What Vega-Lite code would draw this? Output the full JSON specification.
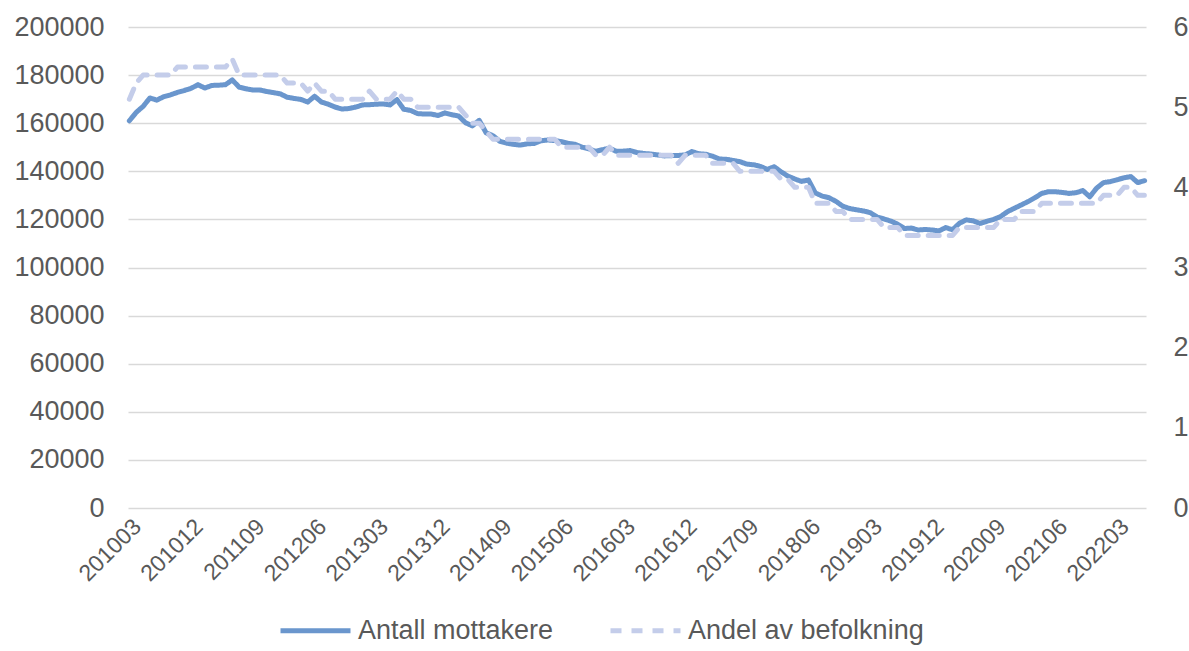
{
  "$schema": "https://vega.github.io/schema/vega-lite/v6.json",
  "autosize": {"type": "none"},
  "padding": {"left": 128, "top": 27, "right": 43, "bottom": 143},
  "width": 1018,
  "height": 481,
  "background": "white",
  "config": {
    "view": {"stroke": null},
    "font": "Liberation Sans",
    "axis": {"labelFont": "Liberation Sans", "labelFontSize": 26, "labelColor": "#595959", "titleFontSize": 0}
  },
  "data": {"values": [
    {"m":"201003","antall":161000,"andel":5.1},{"m":"201004","antall":164500,"andel":5.3},{"m":"201005","antall":167000,"andel":5.4},{"m":"201006","antall":170500,"andel":5.4},{"m":"201007","antall":169600,"andel":5.4},{"m":"201008","antall":171000,"andel":5.4},{"m":"201009","antall":171800,"andel":5.4},{"m":"201010","antall":172800,"andel":5.5},{"m":"201011","antall":173600,"andel":5.5},{"m":"201012","antall":174500,"andel":5.5},
    {"m":"201101","antall":176000,"andel":5.5},{"m":"201102","antall":174600,"andel":5.5},{"m":"201103","antall":175700,"andel":5.5},{"m":"201104","antall":175800,"andel":5.5},{"m":"201105","antall":176000,"andel":5.5},{"m":"201106","antall":178000,"andel":5.6},{"m":"201107","antall":175000,"andel":5.4},{"m":"201108","antall":174300,"andel":5.4},{"m":"201109","antall":173800,"andel":5.4},{"m":"201110","antall":173800,"andel":5.4},{"m":"201111","antall":173200,"andel":5.4},{"m":"201112","antall":172700,"andel":5.4},
    {"m":"201201","antall":172200,"andel":5.4},{"m":"201202","antall":170800,"andel":5.3},{"m":"201203","antall":170300,"andel":5.3},{"m":"201204","antall":169900,"andel":5.3},{"m":"201205","antall":168800,"andel":5.2},{"m":"201206","antall":171200,"andel":5.3},{"m":"201207","antall":168800,"andel":5.2},{"m":"201208","antall":167900,"andel":5.2},{"m":"201209","antall":166700,"andel":5.1},{"m":"201210","antall":165900,"andel":5.1},{"m":"201211","antall":166100,"andel":5.1},{"m":"201212","antall":166700,"andel":5.1},
    {"m":"201301","antall":167600,"andel":5.1},{"m":"201302","antall":167700,"andel":5.2},{"m":"201303","antall":167900,"andel":5.1},{"m":"201304","antall":168000,"andel":5.1},{"m":"201305","antall":167600,"andel":5.1},{"m":"201306","antall":169800,"andel":5.2},{"m":"201307","antall":165800,"andel":5.1},{"m":"201308","antall":165300,"andel":5.1},{"m":"201309","antall":164000,"andel":5.0},{"m":"201310","antall":163800,"andel":5.0},{"m":"201311","antall":163800,"andel":5.0},{"m":"201312","antall":163200,"andel":5.0},
    {"m":"201401","antall":164300,"andel":5.0},{"m":"201402","antall":163500,"andel":5.0},{"m":"201403","antall":163000,"andel":5.0},{"m":"201404","antall":160200,"andel":4.9},{"m":"201405","antall":158900,"andel":4.8},{"m":"201406","antall":161200,"andel":4.8},{"m":"201407","antall":156000,"andel":4.7},{"m":"201408","antall":154800,"andel":4.6},{"m":"201409","antall":152500,"andel":4.6},{"m":"201410","antall":151700,"andel":4.6},{"m":"201411","antall":151200,"andel":4.6},{"m":"201412","antall":150900,"andel":4.6},
    {"m":"201501","antall":151400,"andel":4.6},{"m":"201502","antall":151600,"andel":4.6},{"m":"201503","antall":152700,"andel":4.6},{"m":"201504","antall":153000,"andel":4.6},{"m":"201505","antall":152800,"andel":4.6},{"m":"201506","antall":152300,"andel":4.5},{"m":"201507","antall":151600,"andel":4.5},{"m":"201508","antall":151200,"andel":4.5},{"m":"201509","antall":150000,"andel":4.5},{"m":"201510","antall":149300,"andel":4.5},{"m":"201511","antall":148300,"andel":4.4},{"m":"201512","antall":149000,"andel":4.4},
    {"m":"201601","antall":149600,"andel":4.5},{"m":"201602","antall":148300,"andel":4.4},{"m":"201603","antall":148400,"andel":4.4},{"m":"201604","antall":148600,"andel":4.4},{"m":"201605","antall":147800,"andel":4.4},{"m":"201606","antall":147400,"andel":4.4},{"m":"201607","antall":147200,"andel":4.4},{"m":"201608","antall":146800,"andel":4.4},{"m":"201609","antall":146400,"andel":4.4},{"m":"201610","antall":146500,"andel":4.4},{"m":"201611","antall":146600,"andel":4.3},{"m":"201612","antall":146800,"andel":4.4},
    {"m":"201701","antall":148200,"andel":4.4},{"m":"201702","antall":147300,"andel":4.4},{"m":"201703","antall":147100,"andel":4.4},{"m":"201704","antall":146300,"andel":4.3},{"m":"201705","antall":145100,"andel":4.3},{"m":"201706","antall":145000,"andel":4.3},{"m":"201707","antall":144500,"andel":4.3},{"m":"201708","antall":144000,"andel":4.2},{"m":"201709","antall":143000,"andel":4.2},{"m":"201710","antall":142700,"andel":4.2},{"m":"201711","antall":142000,"andel":4.2},{"m":"201712","antall":140800,"andel":4.2},
    {"m":"201801","antall":141900,"andel":4.2},{"m":"201802","antall":139800,"andel":4.1},{"m":"201803","antall":138000,"andel":4.1},{"m":"201804","antall":136800,"andel":4.0},{"m":"201805","antall":135800,"andel":4.0},{"m":"201806","antall":136400,"andel":4.0},{"m":"201807","antall":131000,"andel":3.8},{"m":"201808","antall":129700,"andel":3.8},{"m":"201809","antall":129000,"andel":3.8},{"m":"201810","antall":127500,"andel":3.7},{"m":"201811","antall":125500,"andel":3.7},{"m":"201812","antall":124500,"andel":3.6},
    {"m":"201901","antall":124000,"andel":3.6},{"m":"201902","antall":123500,"andel":3.6},{"m":"201903","antall":122800,"andel":3.6},{"m":"201904","antall":121000,"andel":3.6},{"m":"201905","antall":120200,"andel":3.5},{"m":"201906","antall":119300,"andel":3.5},{"m":"201907","antall":118000,"andel":3.5},{"m":"201908","antall":116200,"andel":3.4},{"m":"201909","antall":116400,"andel":3.4},{"m":"201910","antall":115600,"andel":3.4},{"m":"201911","antall":115800,"andel":3.4},{"m":"201912","antall":115600,"andel":3.4},
    {"m":"202001","antall":115200,"andel":3.4},{"m":"202002","antall":116600,"andel":3.4},{"m":"202003","antall":115700,"andel":3.4},{"m":"202004","antall":118400,"andel":3.5},{"m":"202005","antall":119800,"andel":3.5},{"m":"202006","antall":119400,"andel":3.5},{"m":"202007","antall":118300,"andel":3.5},{"m":"202008","antall":119200,"andel":3.5},{"m":"202009","antall":120000,"andel":3.5},{"m":"202010","antall":121200,"andel":3.6},{"m":"202011","antall":123200,"andel":3.6},{"m":"202012","antall":124600,"andel":3.6},
    {"m":"202101","antall":126000,"andel":3.7},{"m":"202102","antall":127400,"andel":3.7},{"m":"202103","antall":129000,"andel":3.7},{"m":"202104","antall":130800,"andel":3.8},{"m":"202105","antall":131500,"andel":3.8},{"m":"202106","antall":131500,"andel":3.8},{"m":"202107","antall":131200,"andel":3.8},{"m":"202108","antall":130800,"andel":3.8},{"m":"202109","antall":131100,"andel":3.8},{"m":"202110","antall":132000,"andel":3.8},{"m":"202111","antall":129400,"andel":3.8},{"m":"202112","antall":133000,"andel":3.8},
    {"m":"202201","antall":135300,"andel":3.9},{"m":"202202","antall":135700,"andel":3.9},{"m":"202203","antall":136500,"andel":3.9},{"m":"202204","antall":137300,"andel":4.0},{"m":"202205","antall":137800,"andel":4.0},{"m":"202206","antall":135300,"andel":3.9},{"m":"202207","antall":136100,"andel":3.9}
  ]},
  "encoding": {
    "x": {
      "field": "m", "type": "ordinal", "sort": null,
      "scale": {"type": "point", "padding": 0.2},
      "axis": {
        "title": null, "labelAngle": -45, "labelFontSize": 23, "domain": false, "ticks": false, "grid": false, "labelPadding": 7,
        "values": ["201003","201012","201109","201206","201303","201312","201409","201506","201603","201612","201709","201806","201903","201912","202009","202106","202203"]
      }
    }
  },
  "layer": [
    {
      "mark": {"type": "line", "strokeWidth": 5, "strokeCap": "round", "strokeJoin": "round"},
      "encoding": {
        "y": {
          "field": "antall", "type": "quantitative",
          "scale": {"domain": [0, 200000], "nice": false},
          "axis": {"title": null, "labelFontSize": 27, "values": [0,20000,40000,60000,80000,100000,120000,140000,160000,180000,200000], "format": "d", "domain": false, "ticks": false, "labelPadding": 24, "gridColor": "#d9d9d9", "gridWidth": 1.5}
        },
        "color": {
          "datum": "Antall mottakere",
          "scale": {"domain": ["Antall mottakere", "Andel av befolkning"], "range": ["#6a96cd", "#c4cdea"]},
          "legend": {
            "title": null, "orient": "none", "legendX": 150, "legendY": 566, "direction": "horizontal",
            "symbolType": "stroke", "symbolSize": 4900, "symbolStrokeWidth": 5,
            "labelFontSize": 27, "labelColor": "#595959", "labelFont": "Liberation Sans", "labelOffset": 5, "labelLimit": 0, "columnPadding": 46
          }
        },
        "strokeDash": {
          "datum": "Antall mottakere",
          "scale": {"domain": ["Antall mottakere", "Andel av befolkning"], "range": [[1, 0], [11, 10]]},
          "legend": {
            "title": null, "orient": "none", "legendX": 150, "legendY": 566, "direction": "horizontal",
            "symbolType": "stroke", "symbolSize": 4900, "symbolStrokeWidth": 5,
            "labelFontSize": 27, "labelColor": "#595959", "labelFont": "Liberation Sans", "labelOffset": 5, "labelLimit": 0, "columnPadding": 46
          }
        }
      }
    },
    {
      "mark": {"type": "line", "strokeWidth": 5, "strokeCap": "round", "strokeJoin": "round"},
      "encoding": {
        "y": {
          "field": "andel", "type": "quantitative",
          "scale": {"domain": [0, 6], "nice": false},
          "axis": {"title": null, "orient": "right", "labelFontSize": 27, "values": [0,1,2,3,4,5,6], "format": "d", "grid": false, "domain": false, "ticks": false, "labelPadding": 27}
        },
        "color": {"datum": "Andel av befolkning"},
        "strokeDash": {"datum": "Andel av befolkning"}
      }
    }
  ],
  "resolve": {"scale": {"y": "independent"}}
}
